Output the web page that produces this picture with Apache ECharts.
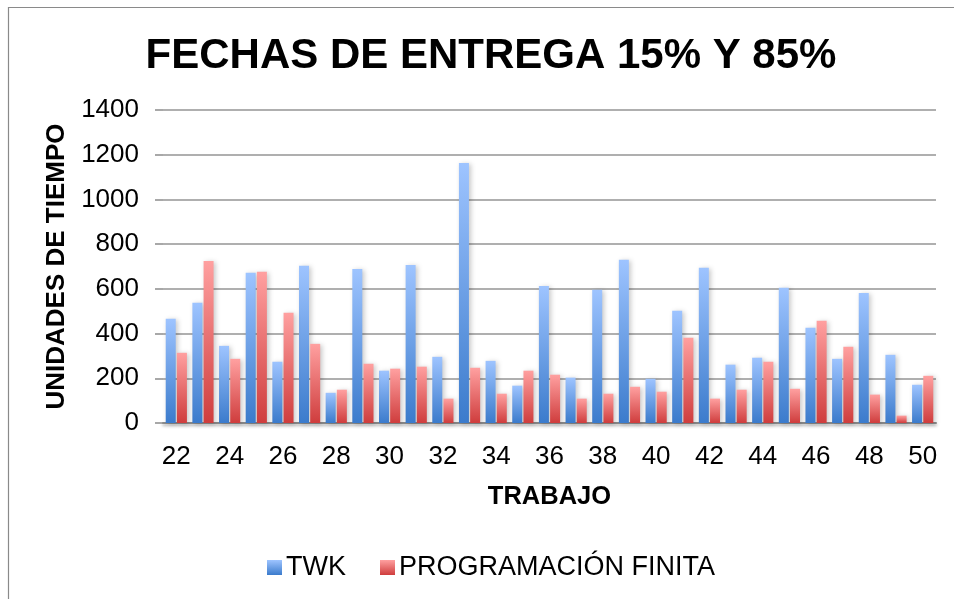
<!DOCTYPE html>
<html>
<head>
<meta charset="utf-8">
<script src="https://cdn.jsdelivr.net/npm/echarts@6/dist/echarts.min.js"></script>
<style>
  html, body { margin: 0; padding: 0; background: #ffffff; }
  #chart { width: 954px; height: 599px; }
</style>
</head>
<body>
<div id="chart"></div>
<script>
// Job numbers on the horizontal axis
const trabajos = ['22','23','24','25','26','27','28','29','30','31','32','33','34','35','36','37','38','39','40','41','42','43','44','45','46','47','48','49','50'];

// Due dates (time units) per job
const twk = [466, 538, 345, 672, 274, 703, 135, 689, 234, 707, 296, 1163, 278, 167, 613, 203, 596, 730, 198, 502, 694, 261, 292, 605, 426, 287, 582, 305, 171];
const programacionFinita = [314, 725, 287, 676, 493, 354, 149, 265, 243, 252, 109, 247, 131, 234, 216, 109, 131, 162, 140, 381, 109, 149, 274, 153, 457, 341, 127, 33, 211];

// Value axis ticks
const yTicks = [0, 200, 400, 600, 800, 1000, 1200, 1400];

const FONT = '"Liberation Sans", Arial, sans-serif';

function vGrad(top, bottom) {
  return new echarts.graphic.LinearGradient(0, 0, 0, 1, [
    { offset: 0, color: top },
    { offset: 1, color: bottom }
  ]);
}

const blueFill = vGrad('#9ec4ff', '#3b7bcc');
const redFill = vGrad('#ffa0a0', '#cf3d3d');

const chart = echarts.init(document.getElementById('chart'), null, { renderer: 'canvas' });

chart.setOption({
  backgroundColor: '#ffffff',
  animation: false,
  graphic: [{
    type: 'rect',
    shape: { x: 8.5, y: 7.5, width: 1200, height: 1200 },
    style: { fill: 'none', stroke: '#8a8a8a', lineWidth: 1.2 },
    silent: true,
    z: -10
  }],
  title: {
    text: 'FECHAS DE ENTREGA 15% Y 85%',
    left: 486,
    top: 30,
    textAlign: 'center',
    textStyle: { fontFamily: FONT, fontSize: 42, fontWeight: 'bold', color: '#000' }
  },
  legend: {
    bottom: 13,
    left: 262,
    itemWidth: 15,
    itemHeight: 15,
    itemGap: 34,
    icon: 'rect',
    textStyle: { fontFamily: FONT, fontSize: 27, color: '#000', padding: [0, 0, 0, -1] },
    data: [
      { name: 'TWK', itemStyle: { color: vGrad('#9ec4ff', '#3b7bcc') } },
      { name: 'PROGRAMACIÓN FINITA', itemStyle: { color: vGrad('#ffa0a0', '#cf3d3d') } }
    ]
  },
  grid: { left: 163, right: 18, top: 110, bottom: 176, containLabel: false },
  xAxis: {
    type: 'category',
    data: trabajos,
    name: 'TRABAJO',
    nameLocation: 'middle',
    nameGap: 61,
    nameTextStyle: { fontFamily: FONT, fontSize: 25.5, fontWeight: 'bold', color: '#000' },
    axisLine: {
      show: true,
      lineStyle: { color: '#8c8c8c', width: 2, shadowColor: 'rgba(0,0,0,0.3)', shadowBlur: 3, shadowOffsetY: 2 }
    },
    axisTick: { show: false },
    axisLabel: { interval: 1, margin: 21, fontFamily: FONT, fontSize: 26, color: '#000' }
  },
  yAxis: {
    type: 'value',
    min: 0,
    max: 1400,
    interval: 200,
    name: 'UNIDADES DE TIEMPO',
    nameLocation: 'middle',
    nameGap: 83,
    nameTextStyle: { fontFamily: FONT, fontSize: 26, fontWeight: 'bold', color: '#000' },
    axisLine: { show: false },
    axisTick: { show: true, inside: false, length: 8, lineStyle: { color: '#8c8c8c', width: 1.5 } },
    axisLabel: {
      margin: 24,
      fontFamily: FONT,
      fontSize: 26,
      color: '#000',
      formatter: function (v) { return yTicks.indexOf(v) >= 0 ? String(v) : ''; }
    },
    splitLine: { show: true, lineStyle: { color: '#959595', width: 1.6 } }
  },
  series: [
    {
      name: 'TWK',
      type: 'bar',
      data: twk,
      barWidth: 10,
      barGap: '12%',
      itemStyle: {
        color: blueFill,
        shadowColor: 'rgba(0,0,0,0.22)',
        shadowBlur: 5,
        shadowOffsetX: 2,
        shadowOffsetY: 1
      }
    },
    {
      name: 'PROGRAMACIÓN FINITA',
      type: 'bar',
      data: programacionFinita,
      barWidth: 10,
      barGap: '12%',
      itemStyle: {
        color: redFill,
        shadowColor: 'rgba(0,0,0,0.22)',
        shadowBlur: 5,
        shadowOffsetX: 2,
        shadowOffsetY: 1
      }
    }
  ]
});
</script>
</body>
</html>
